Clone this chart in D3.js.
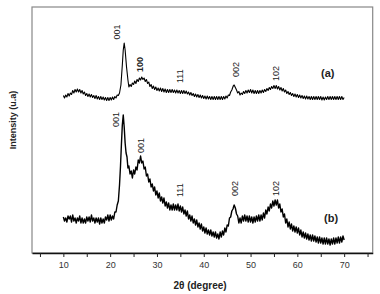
<!DOCTYPE html>
<html>
<head>
<meta charset="utf-8">
<script src="https://cdn.jsdelivr.net/npm/d3@7"></script>
<style>
  html, body { margin: 0; padding: 0; background: #fff; }
  svg { display: block; font-family: "Liberation Sans", Arial, sans-serif; }
</style>
</head>
<body>
<svg id="chart"></svg>
<script>
const width = 380;
const height = 294;
const margin = { top: 7, right: 7.3, bottom: 41, left: 32 };

// x tick values (2θ, degree)
const xTicks = [5, 10, 15, 20, 25, 30, 35, 40, 45, 50, 55, 60, 65, 70, 75];

// pattern (a): [2θ, intensity]
const seriesA = [
  [10, 157.5], [10.25, 155], [10.5, 158], [10.75, 156], [11, 159.5], [11.25, 157], [11.5, 160], [11.75, 158.5],
  [12, 162.5], [12.25, 160], [12.5, 163.5], [12.75, 161], [13, 164], [13.25, 161], [13.5, 163.5], [13.75, 160],
  [14, 162.5], [14.25, 159], [14.5, 161], [14.75, 157.5], [15, 159.5], [15.25, 156.5], [15.5, 159], [15.75, 156],
  [16, 158.5], [16.25, 155.5], [16.5, 157.5], [16.75, 154.5], [17, 157.5], [17.25, 154], [17.5, 156.5], [17.75, 153.5],
  [18, 156.5], [18.25, 153.5], [18.5, 156], [18.75, 153], [19, 155.5], [19.25, 152.5], [19.5, 155.5], [19.75, 152.5],
  [20, 155.5], [20.25, 153], [20.5, 156], [20.75, 153.5], [21, 156.5], [21.25, 155], [21.5, 158], [21.75, 157.5],
  [22, 160], [22.3, 168], [22.6, 188], [22.8, 203], [23.0, 210], [23.2, 203], [23.5, 186], [23.8, 173],
  [24, 166], [24.25, 168.5], [24.5, 166.5], [24.75, 170], [25, 168.5], [25.25, 172], [25.5, 169.5], [25.75, 173.5],
  [26, 171.5], [26.25, 175], [26.5, 173], [26.75, 176], [27, 173.5], [27.25, 175], [27.5, 171.5], [27.75, 173.5],
  [28, 169.5], [28.25, 171], [28.5, 166.5], [28.75, 168.5], [29, 164.5], [29.25, 167], [29.5, 163.5], [29.75, 166],
  [30, 162.5], [30.25, 165], [30.5, 162], [30.75, 165], [31, 161.5], [31.25, 164.5], [31.5, 161], [31.75, 164],
  [32, 160.5], [32.25, 163.5], [32.5, 160.5], [32.75, 163.5], [33, 160.5], [33.25, 163.5], [33.5, 160.5], [33.75, 163],
  [34, 160], [34.25, 163], [34.5, 160], [34.75, 162.5], [35, 159.5], [35.25, 162.5], [35.5, 159.5], [35.75, 162.5],
  [36, 159.5], [36.25, 162], [36.5, 159], [36.75, 161], [37, 158], [37.25, 160.5], [37.5, 157.5], [37.75, 159.5],
  [38, 156.5], [38.25, 159], [38.5, 156], [38.75, 158.5], [39, 155.5], [39.25, 158], [39.5, 155], [39.75, 157.5],
  [40, 154.5], [40.25, 157], [40.5, 154], [40.75, 157], [41, 154], [41.25, 156.5], [41.5, 153.5], [41.75, 156.5],
  [42, 153.5], [42.25, 156.5], [42.5, 153.5], [42.75, 156.5], [43, 153.5], [43.25, 156.5], [43.5, 153.5], [43.75, 156.5],
  [44, 153.5], [44.25, 156.5], [44.5, 154], [44.75, 157], [45, 155], [45.25, 158], [45.5, 157.5], [45.75, 161],
  [46, 163], [46.3, 167], [46.5, 168], [46.8, 165], [47, 163], [47.25, 160], [47.5, 161.5], [47.75, 158],
  [48, 160], [48.25, 158.5], [48.5, 161.5], [48.75, 159.5], [49, 162.5], [49.25, 160], [49.5, 163], [49.75, 160.5],
  [50, 163.5], [50.25, 160], [50.5, 163], [50.75, 159.5], [51, 162.5], [51.25, 159.5], [51.5, 162.5], [51.75, 159.5],
  [52, 162.5], [52.25, 160], [52.5, 163], [52.75, 160.5], [53, 163.5], [53.25, 161.5], [53.5, 164.5], [53.75, 162.5],
  [54, 165.5], [54.25, 163.5], [54.5, 166.5], [54.75, 164.5], [55, 167.5], [55.25, 164.5], [55.5, 167.5], [55.75, 164],
  [56, 166.5], [56.25, 163], [56.5, 165.5], [56.75, 162], [57, 164.5], [57.25, 161], [57.5, 163], [57.75, 159.5],
  [58, 161.5], [58.25, 158.5], [58.5, 160.5], [58.75, 157.5], [59, 159.5], [59.25, 156.5], [59.5, 159], [59.75, 156],
  [60, 158.5], [60.25, 155.5], [60.5, 158], [60.75, 155], [61, 157.5], [61.25, 154.5], [61.5, 157], [61.75, 154],
  [62, 157], [62.25, 154], [62.5, 156.5], [62.75, 153.5], [63, 156.5], [63.25, 153.5], [63.5, 156.5], [63.75, 153.5],
  [64, 156.5], [64.25, 153.5], [64.5, 156.5], [64.75, 153.5], [65, 156.5], [65.25, 153], [65.5, 156], [65.75, 153],
  [66, 156], [66.25, 153.5], [66.5, 156.5], [66.75, 153.5], [67, 156.5], [67.25, 153.5], [67.5, 156.5], [67.75, 153.5],
  [68, 156.5], [68.25, 153.5], [68.5, 156.5], [68.75, 153.5], [69, 156.5], [69.25, 153.5], [69.5, 156.5], [69.75, 153.5],
  [70, 155.5]
];

// pattern (b): [2θ, intensity]
const seriesB = [
  [10, 36], [10.25, 32], [10.5, 35], [10.75, 31], [11, 37], [11.25, 34], [11.5, 37], [11.75, 31],
  [12, 38], [12.25, 32], [12.5, 35], [12.75, 30], [13, 35], [13.25, 32], [13.5, 37], [13.75, 30],
  [14, 35], [14.25, 30], [14.5, 34], [14.75, 30], [15, 36], [15.25, 32], [15.5, 36], [15.75, 31],
  [16, 38], [16.25, 32], [16.5, 35], [16.75, 30], [17, 35], [17.25, 31], [17.5, 35], [17.75, 29],
  [18, 35], [18.25, 30], [18.5, 34], [18.75, 30], [19, 36], [19.25, 33], [19.5, 38], [19.75, 32],
  [20, 38], [20.25, 33], [20.5, 37], [20.75, 34], [21, 41], [21.25, 41], [21.5, 48], [21.75, 52],
  [22.0, 68], [22.2, 86], [22.4, 108], [22.6, 128], [22.8, 138], [23.0, 126], [23.2, 110], [23.4, 100],
  [23.6, 96], [23.8, 85], [24, 87], [24.25, 79], [24.5, 82], [24.75, 75], [25, 83], [25.25, 79],
  [25.5, 86], [25.75, 83], [26, 93], [26.25, 90], [26.5, 97], [26.75, 90], [27, 92], [27.25, 84],
  [27.5, 86], [27.75, 77], [28, 79], [28.25, 71], [28.5, 74], [28.75, 66], [29, 69], [29.25, 62],
  [29.5, 66], [29.75, 58], [30, 62], [30.25, 55], [30.5, 60], [30.75, 52], [31, 56], [31.25, 50],
  [31.5, 55], [31.75, 47], [32, 51], [32.25, 45], [32.5, 50], [32.75, 43], [33, 48], [33.25, 43],
  [33.5, 49], [33.75, 43], [34, 48], [34.25, 43], [34.5, 49], [34.75, 42], [35, 47], [35.25, 41],
  [35.5, 46], [35.75, 39], [36, 43], [36.25, 37], [36.5, 42], [36.75, 34], [37, 38], [37.25, 32],
  [37.5, 37], [37.75, 30], [38, 34], [38.25, 28], [38.5, 33], [38.75, 26], [39, 30], [39.25, 24],
  [39.5, 29], [39.75, 22], [40, 26], [40.25, 20], [40.5, 25], [40.75, 19], [41, 23], [41.25, 18],
  [41.5, 23], [41.75, 17], [42, 21], [42.25, 16], [42.5, 21], [42.75, 15], [43, 19], [43.25, 14],
  [43.5, 21], [43.75, 16], [44, 22], [44.25, 18], [44.5, 25], [44.75, 21], [45, 28], [45.25, 27],
  [45.5, 35], [45.75, 36], [46, 42], [46.25, 44], [46.5, 48], [46.75, 45], [47, 39], [47.25, 37],
  [47.5, 30], [47.75, 35], [48, 30], [48.25, 37], [48.5, 32], [48.75, 38], [49, 32], [49.25, 37],
  [49.5, 31], [49.75, 37], [50, 31], [50.25, 36], [50.5, 30], [50.75, 36], [51, 31], [51.25, 37],
  [51.5, 32], [51.75, 38], [52, 32], [52.25, 38], [52.5, 33], [52.75, 40], [53, 35], [53.25, 43],
  [53.5, 39], [53.75, 46], [54, 42], [54.25, 49], [54.5, 45], [54.75, 52], [55, 47], [55.25, 53],
  [55.5, 48], [55.75, 53], [56, 45], [56.25, 49], [56.5, 41], [56.75, 44], [57, 36], [57.25, 39],
  [57.5, 30], [57.75, 34], [58, 26], [58.25, 31], [58.5, 24], [58.75, 29], [59, 22], [59.25, 27],
  [59.5, 21], [59.75, 26], [60, 20], [60.25, 25], [60.5, 18], [60.75, 23], [61, 16], [61.25, 21],
  [61.5, 15], [61.75, 20], [62, 14], [62.25, 19], [62.5, 13], [62.75, 18], [63, 12], [63.25, 18],
  [63.5, 12], [63.75, 17], [64, 11], [64.25, 16], [64.5, 10], [64.75, 16], [65, 10], [65.25, 15],
  [65.5, 9], [65.75, 15], [66, 9], [66.25, 15], [66.5, 9], [66.75, 14], [67, 8], [67.25, 14],
  [67.5, 9], [67.75, 15], [68, 9], [68.25, 15], [68.5, 10], [68.75, 16], [69, 10], [69.25, 16],
  [69.5, 11], [69.75, 17], [70, 13]
];

// peak labels: [2θ, intensity where the label starts, text, bold]
const labelsA = [[21.4, 213.5, "001", false], [26.4, 181, "100", true], [34.8, 170, "111", false], [46.9, 176, "002", false], [55.4, 172, "102", false]];
const labelsB = [[21.3, 126, "001", false], [26.5, 100, "001", false], [34.8, 56, "111", false], [46.6, 57, "002", false], [55.3, 57, "102", false]];

const svg = d3.select("#chart")
    .attr("width", width)
    .attr("height", height);

const xScale = d3.scaleLinear()
    .domain([3.3, 76.1])
    .range([margin.left, width - margin.right]);

const yScale = d3.scaleLinear()
    .domain([0, 246])
    .range([height - margin.bottom, margin.top]);

// frame
svg.append("rect")
    .attr("x", margin.left)
    .attr("y", margin.top)
    .attr("width", width - margin.left - margin.right)
    .attr("height", height - margin.top - margin.bottom)
    .attr("fill", "none")
    .attr("stroke", "#888")
    .attr("stroke-width", 1.2);

const xAxis = d3.axisBottom(xScale)
    .tickValues(xTicks)
    .tickSize(4)
    .tickSizeOuter(0)
    .tickFormat(d => d % 10 === 0 ? d : "");

const gx = svg.append("g")
    .attr("transform", `translate(0, ${height - margin.bottom})`)
    .call(xAxis);
gx.select(".domain").attr("stroke", "#111").attr("stroke-width", 1.6);
gx.selectAll(".tick line").attr("stroke", "#222");
gx.selectAll(".tick text")
    .attr("fill", "#333")
    .attr("font-size", 9)
    .attr("dy", "0.9em");

const line = d3.line()
    .x(d => xScale(d[0]))
    .y(d => yScale(d[1]));

svg.append("path")
    .datum(seriesA)
    .attr("fill", "none")
    .attr("stroke", "#000")
    .attr("stroke-width", 1.1)
    .attr("stroke-linejoin", "round")
    .attr("d", line);

svg.append("path")
    .datum(seriesB)
    .attr("fill", "none")
    .attr("stroke", "#000")
    .attr("stroke-width", 1.4)
    .attr("stroke-linejoin", "round")
    .attr("d", line);

function peakLabels(data) {
    svg.append("g")
        .selectAll("text")
        .data(data)
        .join("text")
        .attr("transform", d => `translate(${xScale(d[0])}, ${yScale(d[1])}) rotate(-90)`)
        .attr("dy", "0.35em")
        .attr("font-size", 9)
        .attr("font-weight", d => d[3] ? "bold" : "normal")
        .attr("fill", "#222")
        .text(d => d[2]);
}
peakLabels(labelsA);
peakLabels(labelsB);

svg.append("text")
    .attr("x", xScale(66.5))
    .attr("y", yScale(176))
    .attr("text-anchor", "middle")
    .attr("font-size", 11)
    .attr("font-weight", "bold")
    .attr("fill", "#222")
    .text("(a)");

svg.append("text")
    .attr("x", xScale(67.2))
    .attr("y", yScale(31))
    .attr("text-anchor", "middle")
    .attr("font-size", 11)
    .attr("font-weight", "bold")
    .attr("fill", "#222")
    .text("(b)");

svg.append("text")
    .attr("x", 200)
    .attr("y", 289)
    .attr("text-anchor", "middle")
    .attr("font-size", 10)
    .attr("font-weight", "bold")
    .attr("fill", "#222")
    .text("2θ (degree)");

svg.append("text")
    .attr("transform", "translate(15.5, 120) rotate(-90)")
    .attr("text-anchor", "middle")
    .attr("font-size", 9)
    .attr("font-weight", "bold")
    .attr("fill", "#222")
    .text("Intensity (u.a)");
</script>
</body>
</html>
